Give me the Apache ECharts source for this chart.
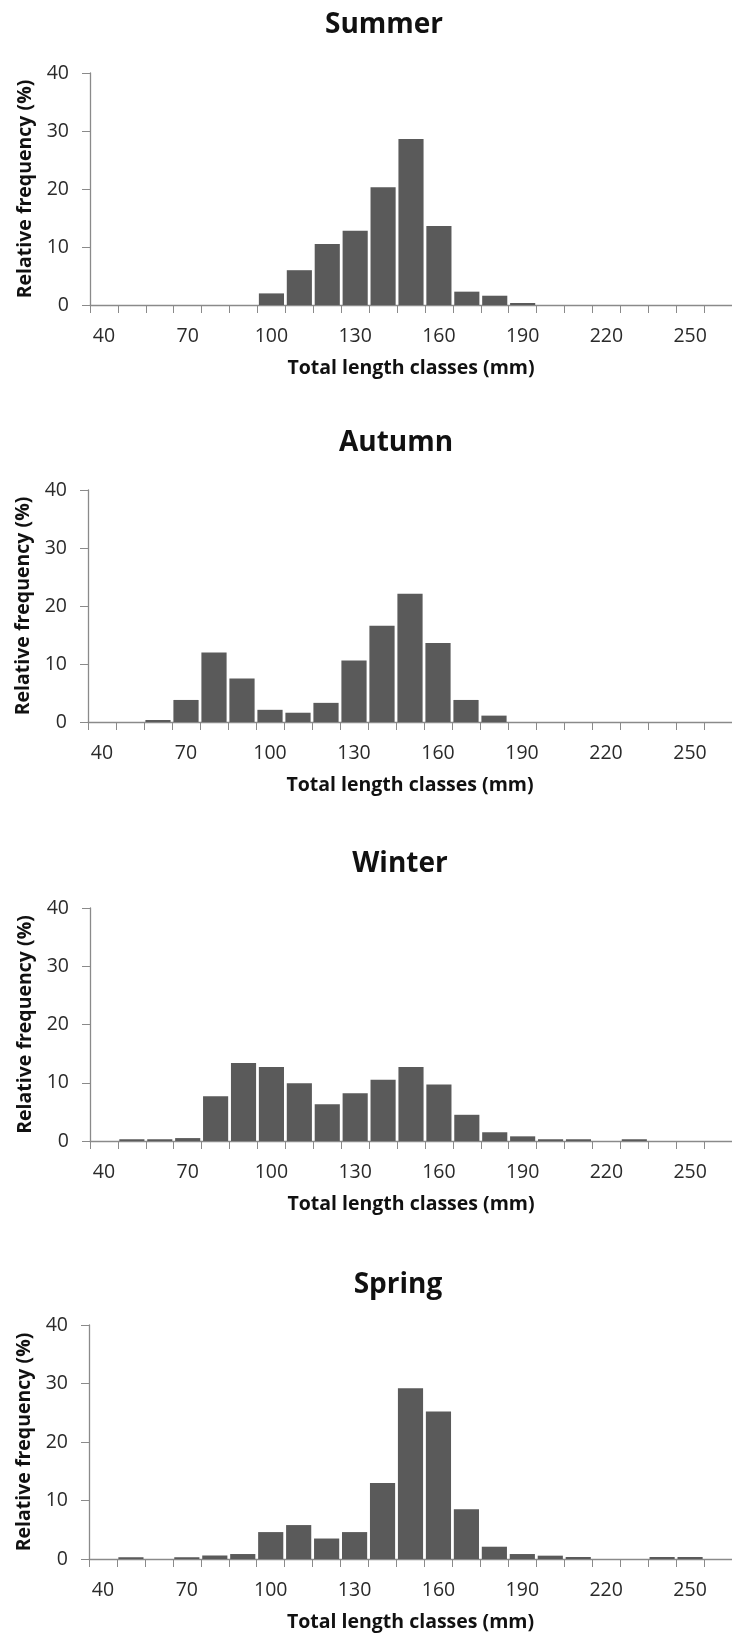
<!DOCTYPE html>
<html lang="en">

<head>
    <meta charset="UTF-8">
    <title>Total length classes by season</title>
    <script src="https://cdn.jsdelivr.net/npm/echarts@6/dist/echarts.min.js"></script>
    <style>
        html, body {
            margin: 0;
            padding: 0;
            background: #fff;
        }

        #main {
            width: 732px;
            height: 1637px;
        }
    </style>
</head>

<body>
    <div id="main"></div>
    <script>
        // length classes (mm)
        var classes = ['40', '50', '60', '70', '80', '90', '100', '110', '120', '130', '140', '150',
            '160', '170', '180', '190', '200', '210', '220', '230', '240', '250', '260'];

        // relative frequency (%) per class
        var summer = [0, 0, 0, 0, 0, 0, 2.0, 6.0, 10.5, 12.8, 20.3, 28.6, 13.6, 2.3, 1.6, 0.35, 0, 0, 0, 0, 0, 0, 0];
        var autumn = [0, 0, 0.35, 3.8, 12.0, 7.5, 2.1, 1.6, 3.3, 10.6, 16.6, 22.1, 13.6, 3.8, 1.1, 0, 0, 0, 0, 0, 0, 0, 0];
        var winter = [0, 0.3, 0.3, 0.5, 7.7, 13.4, 12.7, 9.9, 6.3, 8.2, 10.5, 12.7, 9.7, 4.5, 1.5, 0.8, 0.3, 0.3, 0, 0.3, 0, 0, 0];
        var spring = [0, 0.3, 0, 0.3, 0.6, 0.85, 4.6, 5.8, 3.5, 4.6, 13.0, 29.2, 25.2, 8.5, 2.1, 0.85, 0.57, 0.34, 0, 0, 0.34, 0.34, 0];

        var seasons = ['Summer', 'Autumn', 'Winter', 'Spring'];
        var seriesData = [summer, autumn, winter, spring];
        var yTicks = [0, 10, 20, 30, 40];

        // panel layout
        var gridLefts = [90, 88, 90, 89];
        var gridTops = [73, 490, 908, 1325];
        var gridHeights = [232, 232, 233, 234];
        var titlePos = [[384, 25], [396, 443], [400, 864], [398, 1285]];

        var font = '"Open Sans", "Noto Sans", sans-serif';
        var axisColor = '#8a8a8a';

        var myChart = echarts.init(document.getElementById('main'));

        var grids = [], xAxes = [], yAxes = [], series = [], graphics = [];
        for (var i = 0; i < seasons.length; i++) {
            grids.push({
                left: gridLefts[i],
                top: gridTops[i],
                width: 734 - gridLefts[i],
                height: gridHeights[i],
                containLabel: false
            });
            xAxes.push({
                type: 'category',
                gridIndex: i,
                data: classes,
                boundaryGap: true,
                name: 'Total length classes (mm)',
                nameLocation: 'middle',
                nameGap: 53,
                nameTextStyle: { fontFamily: font, fontWeight: 'bold', fontSize: 19.5, color: '#111' },
                axisLine: { show: true, lineStyle: { color: axisColor, width: 1.3 } },
                axisTick: { show: true, interval: 0, alignWithLabel: false, length: 8, lineStyle: { color: axisColor } },
                axisLabel: { interval: 2, margin: 21, fontFamily: font, fontSize: 19.5, color: '#2a2a2a' },
                splitLine: { show: false }
            });
            yAxes.push({
                type: 'value',
                gridIndex: i,
                min: yTicks[0],
                max: yTicks[yTicks.length - 1],
                interval: 10,
                name: 'Relative frequency (%)',
                nameLocation: 'middle',
                nameGap: 55,
                nameTextStyle: { fontFamily: font, fontWeight: 'bold', fontSize: 19.5, color: '#111' },
                axisLine: { show: true, lineStyle: { color: axisColor, width: 1.3 } },
                axisTick: { show: true, length: 8, lineStyle: { color: axisColor } },
                axisLabel: { margin: 21, fontFamily: font, fontSize: 19.5, color: '#2a2a2a' },
                splitLine: { show: false }
            });
            series.push({
                name: seasons[i],
                type: 'bar',
                xAxisIndex: i,
                yAxisIndex: i,
                data: seriesData[i],
                barCategoryGap: '10%',
                itemStyle: { color: '#5a5a5a' },
                silent: true
            });
            graphics.push({
                type: 'text',
                x: titlePos[i][0],
                y: titlePos[i][1],
                style: {
                    text: seasons[i],
                    fill: '#111',
                    fontFamily: font,
                    fontWeight: 'bold',
                    fontSize: 28,
                    align: 'center',
                    verticalAlign: 'middle',
                    textAlign: 'center',
                    textVerticalAlign: 'middle'
                }
            });
        }

        var option = {
            animation: false,
            backgroundColor: '#fff',
            grid: grids,
            xAxis: xAxes,
            yAxis: yAxes,
            series: series,
            graphic: graphics
        };

        myChart.setOption(option);
    </script>
</body>

</html>
